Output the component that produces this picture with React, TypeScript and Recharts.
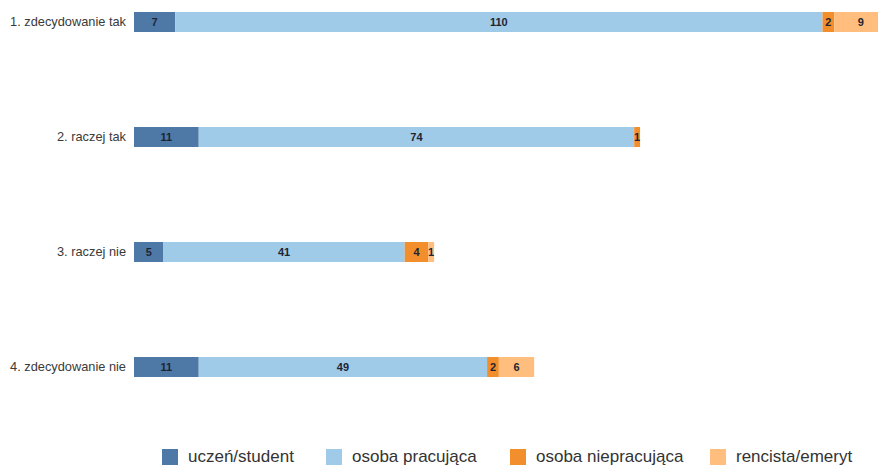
import { BarChart, Bar, XAxis, YAxis, Legend, LabelList } from 'recharts';

const categories = ['1. zdecydowanie tak', '2. raczej tak', '3. raczej nie', '4. zdecydowanie nie'];
const uczen = [7, 11, 5, 11];
const pracujaca = [110, 74, 41, 49];
const niepracujaca = [2, 1, 4, 2];
const emeryt = [9, 0, 1, 6];

const seriesNames = ['uczeń/student', 'osoba pracująca', 'osoba niepracująca', 'rencista/emeryt'];
const seriesKeys = ['uczen', 'pracujaca', 'niepracujaca', 'emeryt'];
const colors = ['#4e79a7', '#a0cbe8', '#f28e2b', '#ffbe7d'];

const data = categories.map((name, i) => ({
  name,
  uczen: uczen[i],
  pracujaca: pracujaca[i],
  niepracujaca: niepracujaca[i],
  emeryt: emeryt[i],
}));

// widths of each legend item (icon + text + gap)
const legendWidths = [164, 184, 200, 160];

const renderLegend = () => (
  <div style={{ height: 66, display: 'flex', alignItems: 'center', paddingLeft: 162, boxSizing: 'border-box' }}>
    {seriesNames.map((label, i) => (
      <div key={label} style={{ width: legendWidths[i], display: 'flex', alignItems: 'center', flex: 'none' }}>
        <span style={{ width: 16, height: 16, background: colors[i], marginRight: 10, display: 'inline-block' }} />
        <span style={{ fontSize: 17, color: '#333', whiteSpace: 'nowrap' }}>{label}</span>
      </div>
    ))}
  </div>
);

const hideZero = (v: any) => (v ? v : '');

const App = () => {
  return (
    <div
      style={{
        position: 'absolute',
        left: 0,
        top: 0,
        width: 878,
        height: 468,
        overflow: 'hidden',
        fontFamily: '"Liberation Sans", Arial, sans-serif',
      }}
    >
      <div style={{ position: 'absolute', left: 0, top: -36 }}>
        <BarChart
          width={899}
          height={526}
          data={data}
          layout="vertical"
          margin={{ top: 0, right: 0, bottom: 0, left: 0 }}
        >
          <XAxis type="number" hide domain={[0, 130]} />
          <YAxis
            type="category"
            dataKey="name"
            width={134}
            axisLine={false}
            tickLine={false}
            tick={{ fontSize: 12.8, fill: '#3a3a3a' }}
          />
          <Legend verticalAlign="bottom" content={renderLegend} />
          {seriesKeys.map((key, i) => (
            <Bar
              key={key}
              dataKey={key}
              name={seriesNames[i]}
              stackId="a"
              fill={colors[i]}
              barSize={20}
              isAnimationActive={false}
            >
              <LabelList
                dataKey={key}
                position="center"
                formatter={hideZero}
                style={{ fontSize: 11, fontWeight: 'bold', fill: '#1e2433' }}
              />
            </Bar>
          ))}
        </BarChart>
      </div>
    </div>
  );
};

export default App;
